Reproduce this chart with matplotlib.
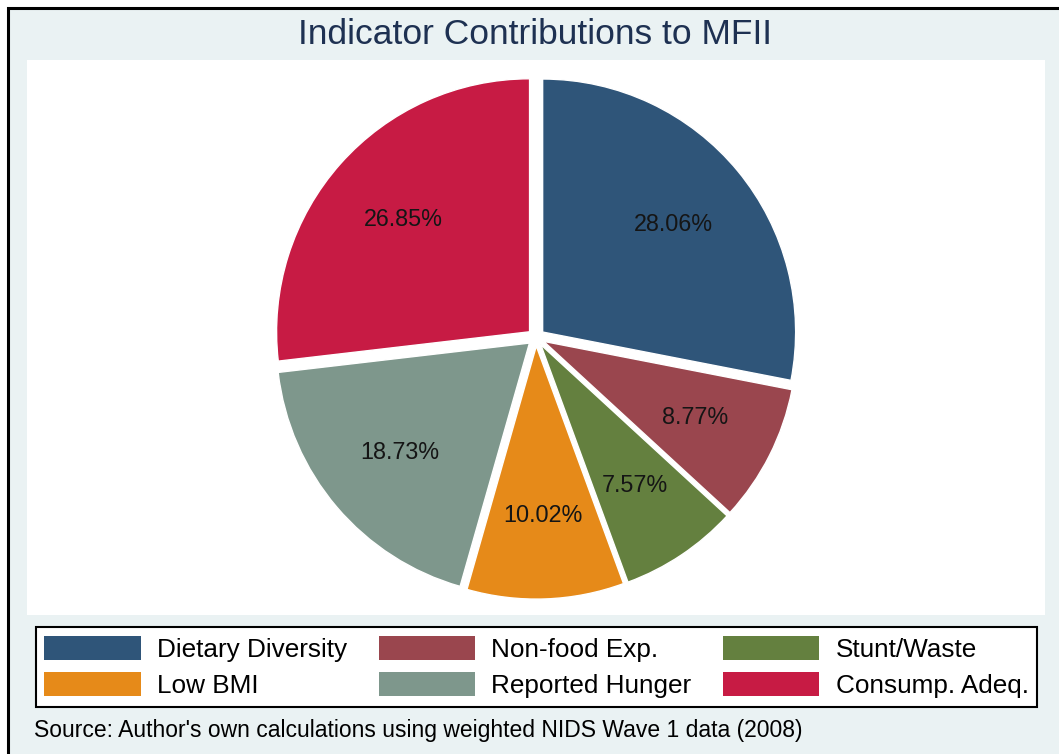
import matplotlib
import matplotlib.pyplot as plt
from matplotlib.patches import Patch, Rectangle

matplotlib.use("Agg")

plt.rcParams["font.family"] = ["Liberation Sans", "DejaVu Sans"]

# slices in drawing order (clockwise from 12 o'clock)
indicators = ["Dietary Diversity", "Non-food Exp.", "Stunt/Waste",
              "Low BMI", "Reported Hunger", "Consump. Adeq."]
shares = [28.06, 8.77, 7.57, 10.02, 18.73, 26.85]
colors = ["#2f5579", "#9a464e", "#64803f", "#e68a19", "#7e978c", "#c71b44"]

W, H = 1059, 754


def fx(px):
    return px / W


def fy(py):
    return 1 - py / H


fig = plt.figure(figsize=(W / 100, H / 100), dpi=100, facecolor="white")

# light bluish-gray background with black top/left frame
fig.patches.append(Rectangle((fx(8), fy(H + 20)), fx(W + 20 - 8), (H + 20 - 8) / H,
                             transform=fig.transFigure, facecolor="#eaf2f3",
                             edgecolor="black", linewidth=2.2, zorder=-1))

# white plot region
left, right, top, bottom = 27, 1045, 60, 615
ax = fig.add_axes([fx(left), fy(bottom), fx(right - left), (bottom - top) / H])

R = 253.0  # pie radius in pixels
wedges, texts, autotexts = ax.pie(
    shares, colors=colors, startangle=90, counterclock=False,
    explode=[0.034] * len(shares), radius=1,
    autopct=lambda p: f"{p:.2f}%", pctdistance=0.67,
    wedgeprops=dict(edgecolor="white", linewidth=1.0),
    textprops=dict(fontsize=16.8, color="#151515"))

half_h = (bottom - top) / 2 / R
half_w = (right - left) / 2 / R
ax.set_ylim(-half_h, half_h)
ax.set_xlim(-half_w, half_w)
ax.set_frame_on(True)
ax.set_facecolor("white")
ax.set_xticks([])
ax.set_yticks([])
for s in ax.spines.values():
    s.set_visible(False)

fig.text(fx(535), fy(34), "Indicator Contributions to MFII", fontsize=25.5,
         color="#1e3152", ha="center", va="center")

# legend reads row-wise in the original, matplotlib fills column-wise
order = [0, 3, 1, 4, 2, 5]
handles = [Patch(facecolor=colors[i], edgecolor="none", label=indicators[i]) for i in order]
leg = fig.legend(handles=handles, ncol=3, loc="center",
                 bbox_to_anchor=(fx(536.5), fy(667)), fontsize=18.8,
                 frameon=True, fancybox=False, edgecolor="black", facecolor="white",
                 framealpha=1, handlelength=3.7, handleheight=1.05, handletextpad=0.62,
                 columnspacing=1.2, labelspacing=0.4, borderpad=0.32)
leg.get_frame().set_linewidth(1.5)

fig.text(fx(34), fy(731), "Source: Author's own calculations using weighted NIDS Wave 1 data (2008)",
         fontsize=16.5, color="black", ha="left", va="center")

plt.savefig("out.png", dpi=100, facecolor=fig.get_facecolor())
plt.close()
